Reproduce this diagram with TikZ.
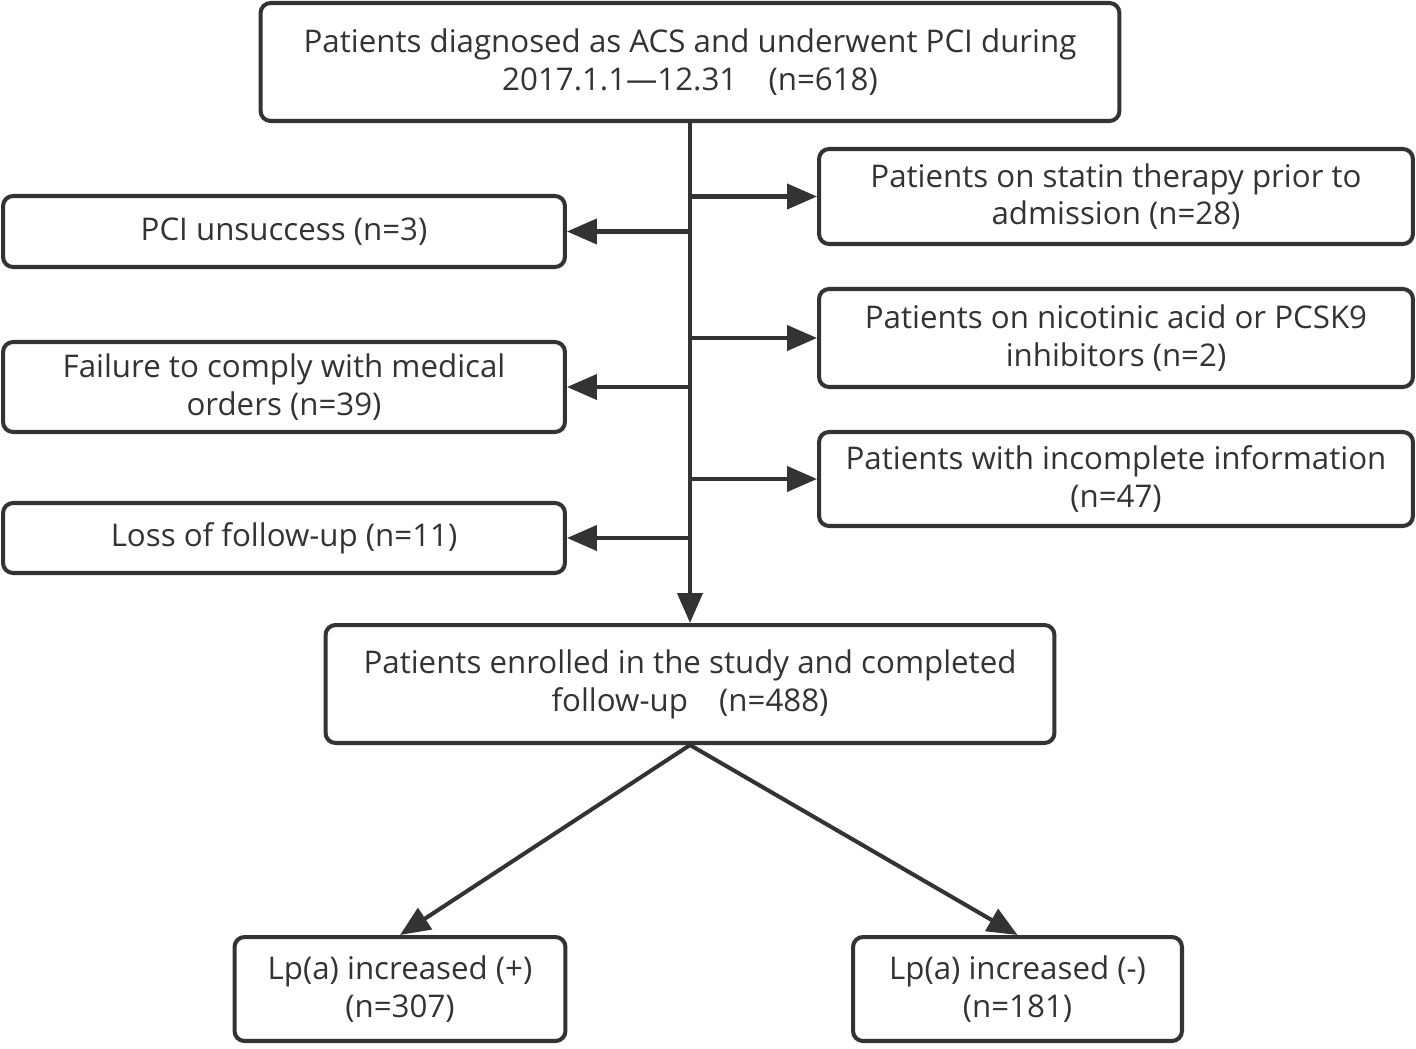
\documentclass[tikz,border=0pt]{standalone}
\usepackage{fontspec}
\setmainfont{Open Sans}
\usetikzlibrary{arrows.meta,positioning}
\definecolor{gris}{HTML}{333333}
\tikzset{
	caja/.style={rectangle, rounded corners=0.2cm, draw=gris, line width=2.3pt,
		text=gris, font=\fontsize{17.8}{21.5}\selectfont, align=center, inner sep=0pt},
	flecha/.style={draw=gris, line width=2.3pt, -{Triangle[length=0.6cm,width=0.5cm]}},
	tronco/.style={draw=gris, line width=2.3pt}
}

\begin{document}
\begin{tikzpicture}[x=0.02cm, y=-0.02cm]
			\useasboundingbox (0,0) rectangle (1416,1048);
			\node[caja, minimum width=17.18cm, minimum height=2.36cm] (total) at (690,62) {Patients diagnosed as ACS and underwent PCI during\\
				2017.1.1---12.31\quad (n=618)};
			
			% exclusiones a la derecha
			\node[caja, minimum width=11.88cm, minimum height=1.9cm] (estatina) at (1116,196.5) {Patients on statin therapy prior to\\ admission (n=28)};
			\node[caja, minimum width=11.88cm, minimum height=1.96cm] (nicotinico) at (1116,338) {Patients on nicotinic acid or PCSK9\\ inhibitors (n=2)};
			\node[caja, minimum width=11.88cm, minimum height=1.88cm] (incompleta) at (1116,479) {Patients with incomplete information\\ (n=47)};
			
			% exclusiones a la izquierda
			\node[caja, minimum width=11.24cm, minimum height=1.42cm] (fallo) at (284,231.5) {PCI unsuccess (n=3)};
			\node[caja, minimum width=11.24cm, minimum height=1.8cm] (ordenes) at (284,387) {Failure to comply with medical\\ orders (n=39)};
			\node[caja, minimum width=11.24cm, minimum height=1.4cm] (perdida) at (284,538) {Loss of follow-up (n=11)};
			
			\node[caja, minimum width=14.58cm, minimum height=2.36cm] (inscritos) at (690,684) {Patients enrolled in the study and completed\\
				follow-up\quad (n=488)};
			
			\node[caja, minimum width=6.62cm, minimum height=2.08cm] (positivo) at (400,989) {Lp(a) increased (+)\\ (n=307)};
			\node[caja, minimum width=6.58cm, minimum height=2.08cm] (negativo) at (1017.5,989) {Lp(a) increased (-)\\ (n=181)};
			
			\coordinate (d1) at (690,196.5);
			\coordinate (d2) at (690,338);
			\coordinate (d3) at (690,479);
			\coordinate (i1) at (690,231.5);
			\coordinate (i2) at (690,387);
			\coordinate (i3) at (690,538);
			
			\draw[flecha] (total.south) -- (inscritos.north);
			\draw[flecha] (d1) -- (estatina.west);
			\draw[flecha] (d2) -- (nicotinico.west);
			\draw[flecha] (d3) -- (incompleta.west);
			\draw[flecha] (i1) -- (fallo.east);
			\draw[flecha] (i2) -- (ordenes.east);
			\draw[flecha] (i3) -- (perdida.east);
			\draw[flecha] (inscritos.south) -- (positivo.north);
			\draw[flecha] (inscritos.south) -- (negativo.north);
		\end{tikzpicture}
\end{document}
